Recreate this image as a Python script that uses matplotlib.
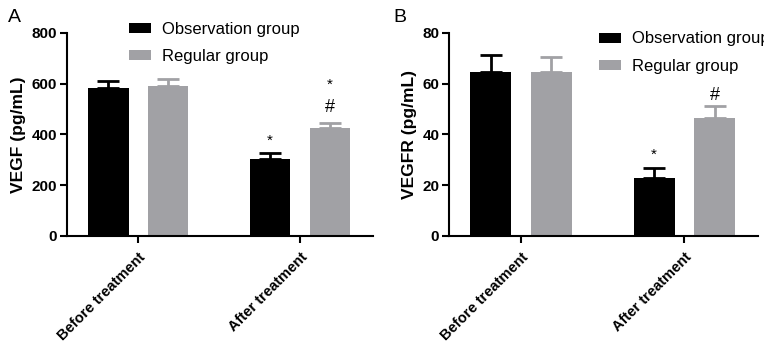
import numpy as np
import matplotlib.pyplot as plt

plt.rcParams['font.family'] = ['Liberation Sans', 'DejaVu Sans']

categories = ['Before treatment', 'After treatment']
groups = ['Observation group', 'Regular group']

vegf_obs = [582, 305]
vegf_obs_err = [29, 21]
vegf_reg = [589, 427]
vegf_reg_err = [28, 19]

vegfr_obs = [64.7, 22.7]
vegfr_obs_err = [6.6, 4.0]
vegfr_reg = [64.5, 46.6]
vegfr_reg_err = [5.9, 4.6]

colors = ['#000000', '#a1a1a5']

fig = plt.figure(figsize=(7.64, 3.43), dpi=100)
ax_a = fig.add_axes([0.0877, 0.312, 0.4005, 0.592])
ax_b = fig.add_axes([0.5877, 0.312, 0.4045, 0.592])


def draw_panel(ax, obs, obs_err, reg, reg_err, ymax, ylabel):
    x = np.arange(len(categories))
    off = 0.185
    w = 0.25
    for vals, errs, sign, col, lab in [(obs, obs_err, -1, colors[0], groups[0]),
                                       (reg, reg_err, 1, colors[1], groups[1])]:
        ax.bar(x + sign * off, vals, width=w, color=col, label=lab, zorder=2)
        ax.errorbar(x + sign * off, vals, yerr=[np.zeros(len(vals)), errs],
                    fmt='none', ecolor=col, elinewidth=2, capsize=8, capthick=2, zorder=1)
    ax.set_xlim(-0.44, 1.45)
    ax.set_ylim(0, ymax)
    ax.set_yticks(np.linspace(0, ymax, 5))
    ax.set_xticks(x)
    ax.set_xticklabels(categories, rotation=45, ha='right', rotation_mode='anchor',
                       fontsize=10.5, fontweight='bold')
    for t in ax.get_yticklabels():
        t.set_fontweight('bold')
        t.set_fontsize(11)
    ax.set_ylabel(ylabel, fontsize=12.5, fontweight='bold', labelpad=4)
    ax.spines['top'].set_visible(False)
    ax.spines['right'].set_visible(False)
    ax.spines['left'].set_linewidth(1.5)
    ax.spines['bottom'].set_linewidth(1.5)
    ax.tick_params(axis='both', width=1.5, length=5, pad=2)
    ax.tick_params(axis='x', pad=5)


draw_panel(ax_a, vegf_obs, vegf_obs_err, vegf_reg, vegf_reg_err, 800, 'VEGF (pg/mL)')
draw_panel(ax_b, vegfr_obs, vegfr_obs_err, vegfr_reg, vegfr_reg_err, 80, 'VEGFR (pg/mL)')

# significance marks
ax_a.text(1 - 0.185, 375, '*', ha='center', va='center', fontsize=11)
ax_a.text(1 + 0.185, 505, '#', ha='center', va='center', fontsize=13)
ax_a.text(1 + 0.185, 595, '*', ha='center', va='center', fontsize=11)
ax_b.text(1 - 0.185, 32, '*', ha='center', va='center', fontsize=11)
ax_b.text(1 + 0.185, 55.5, '#', ha='center', va='center', fontsize=13)

leg_kw = dict(frameon=False, fontsize=12, handlelength=1.3, handleheight=0.55,
              handletextpad=0.65, labelspacing=0.75, borderaxespad=0)
ax_a.legend(loc='upper left', bbox_to_anchor=(0.182, 1.089), **leg_kw)
ax_b.legend(loc='upper left', bbox_to_anchor=(0.464, 1.04), **leg_kw)

fig.text(0.01, 0.975, 'A', fontsize=14, va='top')
fig.text(0.515, 0.975, 'B', fontsize=14, va='top')

fig.savefig('out.png', dpi=100)
